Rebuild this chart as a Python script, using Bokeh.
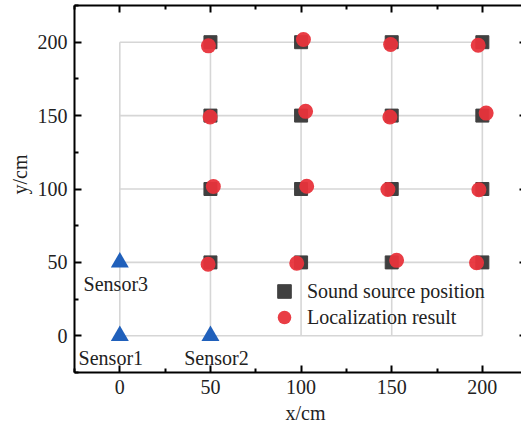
import numpy as np
from bokeh.plotting import figure
from bokeh.models import (ColumnDataSource, Range1d, LinearAxis, FixedTicker, Legend,
                          LegendItem, Label)
from bokeh.embed import file_html
from bokeh.resources import INLINE
from bokeh.core.properties import value

# ---------------- data ----------------
grid_ticks = [0, 50, 100, 150, 200]
minor_ticks = [-25, 25, 75, 125, 175, 225]

source_x = [50, 100, 150, 200, 50, 100, 150, 200, 50, 100, 150, 200, 50, 100, 150, 200]
source_y = [200, 200, 200, 200, 150, 150, 150, 150, 100, 100, 100, 100, 50, 50, 50, 50]

result_x = [48.9, 101.3, 149.4, 197.7, 49.8, 102.5, 149.0, 202.1,
            51.6, 103.1, 147.9, 198.1, 48.7, 97.6, 152.7, 196.8]
result_y = [197.5, 201.8, 198.4, 197.9, 149.0, 152.9, 149.0, 151.7,
            101.7, 101.9, 99.7, 99.5, 48.7, 49.4, 51.4, 49.8]

sensor_x = [0, 50, 0]
sensor_y = [0, 0, 50]
sensor_names = ["Sensor1", "Sensor2", "Sensor3"]

legend_labels = ["Sound source position", "Localization result"]
x_title = "x/cm"
y_title = "y/cm"

# ---------------- style ----------------
FONT = "Liberation Serif"
FS = "20px"
TXT = "#222222"
W, H = 521, 425

p = figure(width=W, height=H, output_backend="svg", toolbar_location=None,
           x_range=Range1d(-25, 221.6), y_range=Range1d(-25, 225),
           x_axis_location=None, y_axis_location=None,
           min_border_left=74, min_border_right=0, min_border_top=5, min_border_bottom=53)
p.outline_line_color = None
p.xgrid.visible = False
p.ygrid.visible = False
p.background_fill_color = "white"
p.border_fill_color = "white"


def labelled_axis():
    ax = LinearAxis(ticker=FixedTicker(ticks=grid_ticks, minor_ticks=minor_ticks))
    ax.axis_line_color = "black"
    ax.axis_line_width = 2
    ax.major_tick_line_color = "black"
    ax.major_tick_line_width = 2
    ax.minor_tick_line_color = "black"
    ax.minor_tick_line_width = 2
    ax.major_tick_in = 7
    ax.major_tick_out = 0
    ax.minor_tick_in = 4
    ax.minor_tick_out = 0
    ax.major_label_text_font = FONT
    ax.major_label_text_font_size = FS
    ax.major_label_text_color = TXT
    ax.major_label_standoff = 7
    return ax


def tick_only_axis(ticks, length, line=True):
    # an axis with no labels: only (minor) tick marks of a given length
    ax = LinearAxis(ticker=FixedTicker(ticks=[], minor_ticks=ticks))
    ax.axis_line_color = "black" if line else None
    ax.axis_line_width = 2
    ax.minor_tick_line_color = "black"
    ax.minor_tick_line_width = 2
    ax.minor_tick_in = length
    ax.minor_tick_out = 0
    ax.major_label_standoff = 0
    return ax


p.add_layout(labelled_axis(), "below")
p.add_layout(labelled_axis(), "left")
p.add_layout(tick_only_axis(grid_ticks, 7), "above")
p.add_layout(tick_only_axis(minor_ticks, 4, line=False), "above")
p.add_layout(tick_only_axis(grid_ticks, 2, line=False), "right")

# bounded grid lines (0..200)
g0, g1 = min(grid_ticks), max(grid_ticks)
p.segment(x0=grid_ticks, y0=[g0] * len(grid_ticks), x1=grid_ticks, y1=[g1] * len(grid_ticks),
          line_color="#d6d6d6", line_width=1.6)
p.segment(x0=[g0] * len(grid_ticks), y0=grid_ticks, x1=[g1] * len(grid_ticks), y1=grid_ticks,
          line_color="#d6d6d6", line_width=1.6)

r_sq = p.scatter(source_x, source_y, marker="square", size=13, fill_color="#404040",
                 line_color="#404040")
r_ci = p.scatter(result_x, result_y, marker="circle", size=15, fill_color="#e8333b",
                 line_color=None, fill_alpha=0.95)

p.scatter(sensor_x, sensor_y, marker="triangle", size=18, fill_color="#2060bb", line_color=None)

src = ColumnDataSource(dict(x=sensor_x, y=sensor_y, t=sensor_names,
                            dx=[-9, 6, -4], dy=[22, 22, 22]))
p.text(x="x", y="y", text="t", source=src, x_offset="dx", y_offset="dy",
       text_font=value(FONT), text_font_size=FS, text_align="center",
       text_baseline="middle", text_color=TXT)

# two one-row legends, so that the rows sit closer than the glyph boxes
leg_style = dict(orientation="vertical", border_line_color=None, background_fill_alpha=0,
                 label_text_font=FONT, label_text_font_size=FS, label_text_color=TXT,
                 glyph_width=34, glyph_height=34, label_standoff=6, padding=0, margin=0)
p.add_layout(Legend(items=[LegendItem(label=legend_labels[0], renderers=[r_sq])],
                    location=(193, 64), **leg_style))
p.add_layout(Legend(items=[LegendItem(label=legend_labels[1], renderers=[r_ci])],
                    location=(193, 38), **leg_style))

# axis titles as labels in the side panels
lab = dict(text_font=FONT, text_font_size=FS, text_color=TXT, text_baseline="middle",
           x_units="screen", y_units="screen")
p.add_layout(Label(x=211, y=6, text=x_title, text_align="left", **lab), "below")
p.add_layout(Label(x=7, y=198, text=y_title, angle=np.pi / 2, text_align="center", **lab), "left")

open("out.html", "w").write(file_html(p, INLINE))
